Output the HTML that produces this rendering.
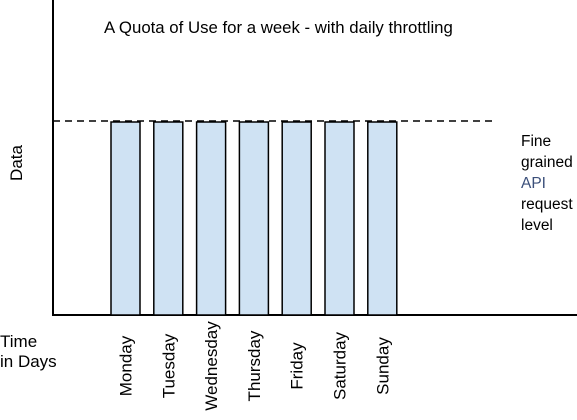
<!DOCTYPE html>
<html><head><meta charset="utf-8"><style>
html,body{margin:0;padding:0;background:#fff;}
svg{display:block;font-family:"Liberation Sans",Arial,sans-serif;}
</style></head><body>
<svg id="chart" width="577" height="420" viewBox="0 0 577 420">
<text x="104" y="33" font-size="16.8" fill="#000">A Quota of Use for a week - with daily throttling</text>
<line x1="53" y1="0" x2="53" y2="315" stroke="#000" stroke-width="2"/>
<line x1="52" y1="315" x2="577" y2="315" stroke="#000" stroke-width="2"/>
<text transform="translate(22,163) rotate(-90)" text-anchor="middle" font-size="17">Data</text>
<text x="0" y="347" font-size="17"><tspan x="0">Time</tspan><tspan x="0" dy="20">in Days</tspan></text>
<g id="bars"></g>
<g id="labels"></g>
<line id="quota" x1="53" x2="493" stroke="#000" stroke-width="1.5" stroke-dasharray="7,5"/>
<text x="521" y="146" font-size="15.5"><tspan x="521">Fine</tspan><tspan x="521" dy="21">grained</tspan><tspan x="521" dy="21" fill="#3b4f7a">API</tspan><tspan x="521" dy="21">request</tspan><tspan x="521" dy="21">level</tspan></text>
</svg>
<script>
const categories=["Monday","Tuesday","Wednesday","Thursday","Friday","Saturday","Sunday"];
const values=[1,1,1,1,1,1,1];
const quota=[1];
const yMax=1;
const ns="http://www.w3.org/2000/svg";
const x0=111, step=42.8, bw=29, yBase=315, yTop=122;
function xPos(i){return x0+i*step;}
function yPos(v){return yBase-(v/yMax)*(yBase-yTop);}
const bars=document.getElementById('bars'), labels=document.getElementById('labels');
categories.forEach((c,i)=>{
  const r=document.createElementNS(ns,'rect');
  r.setAttribute('x',xPos(i));r.setAttribute('y',yPos(values[i]));
  r.setAttribute('width',bw);r.setAttribute('height',yBase-yPos(values[i]));
  r.setAttribute('fill','#cfe2f3');r.setAttribute('stroke','#000');r.setAttribute('stroke-width','1.5');
  
  
  bars.appendChild(r);
  const t=document.createElementNS(ns,'text');
  const cx=xPos(i)+bw/2+6;
  t.setAttribute('transform','translate('+cx+',366) rotate(-90)');
  t.setAttribute('text-anchor','middle');t.setAttribute('font-size','17');
  t.textContent=c;
  
  
  labels.appendChild(t);
});
const q=document.getElementById('quota');
q.setAttribute('y1',yPos(quota[0])-1);q.setAttribute('y2',yPos(quota[0])-1);
</script>
</body></html>
